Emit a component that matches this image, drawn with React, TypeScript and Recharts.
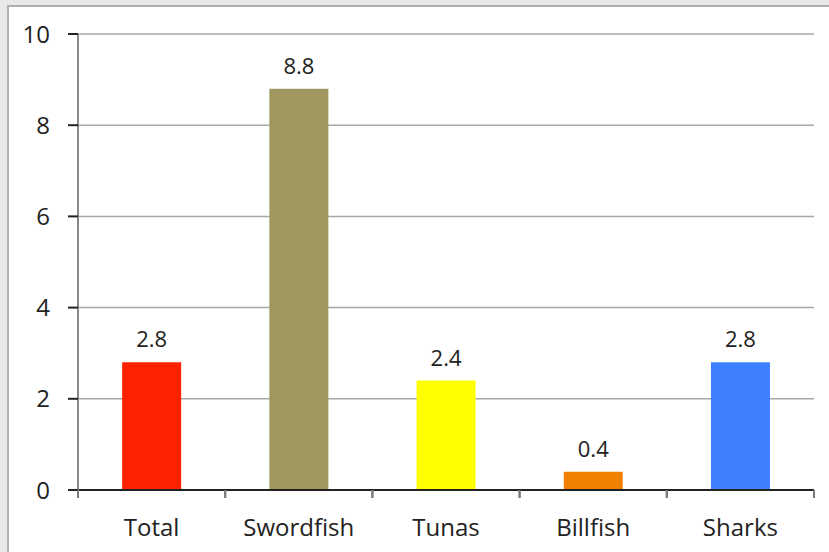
import { BarChart, Bar, XAxis, YAxis, CartesianGrid, Cell, LabelList } from 'recharts';

const categories = ['Total', 'Swordfish', 'Tunas', 'Billfish', 'Sharks'];
const values = [2.8, 8.8, 2.4, 0.4, 2.8];
const yTicks = [0, 2, 4, 6, 8, 10];

const barColors = ['#ff2200', '#a09660', '#ffff00', '#f08000', '#3d7fff'];
const font = '"Open Sans", sans-serif';

const data = categories.map((name, i) => ({ name, value: values[i] }));

// category label at the centre, tick marks at the band edges
function CategoryTick(props: any) {
  const { x, y, payload } = props;
  const half = payload.offset || 0;
  return (
    <g>
      <line x1={x - half} x2={x - half} y1={y} y2={y + 8} stroke="#7a7a7a" strokeWidth={2} />
      <line x1={x + half} x2={x + half} y1={y} y2={y + 8} stroke="#7a7a7a" strokeWidth={2} />
      <text x={x} y={y + 46} textAnchor="middle" fill="#222" fontSize={24} fontFamily={font}>
        {payload.value}
      </text>
    </g>
  );
}

export default function App() {
  return (
    <div style={{ position: 'absolute', left: 0, top: 0, width: 829, height: 552, background: '#e8e8e8' }}>
      <div
        style={{
          position: 'absolute',
          left: 7,
          top: 5,
          right: 0,
          bottom: 0,
          background: '#fff',
          borderLeft: '2px solid #b0b0b0',
          borderTop: '2px solid #b0b0b0',
        }}
      />
      <div style={{ position: 'absolute', left: 0, top: 0 }}>
        <BarChart
          width={829}
          height={552}
          data={data}
          margin={{ top: 34, right: 15, left: 8, bottom: 22 }}
          barCategoryGap="30%"
        >
          <CartesianGrid vertical={false} stroke="#a8a8a8" strokeWidth={1.5} />
          <XAxis
            dataKey="name"
            height={40}
            tickLine={false}
            tickSize={0}
            tickMargin={0}
            axisLine={{ stroke: '#222', strokeWidth: 2 }}
            tick={<CategoryTick />}
            interval={0}
          />
          <YAxis
            width={70}
            domain={[0, 10]}
            ticks={yTicks}
            tickSize={10}
            tickMargin={18}
            axisLine={{ stroke: '#888', strokeWidth: 2 }}
            tickLine={{ stroke: '#222', strokeWidth: 2 }}
            tick={{ fill: '#222', fontSize: 24, fontFamily: font }}
          />
          <Bar dataKey="value" isAnimationActive={false}>
            {data.map((d, i) => (
              <Cell key={d.name} fill={barColors[i]} />
            ))}
            <LabelList
              dataKey="value"
              position="top"
              offset={15}
              fill="#222"
              fontSize={22}
              fontFamily={font}
            />
          </Bar>
        </BarChart>
      </div>
    </div>
  );
}
